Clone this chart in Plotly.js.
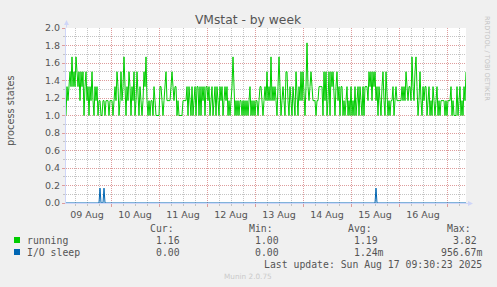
<!DOCTYPE html>
<html>
<head>
<meta charset="utf-8">
<script src="https://cdn.plot.ly/plotly-3.0.1.min.js"></script>
<style>
  html, body { margin: 0; padding: 0; background: #F0F0F0; }
  #chart { width: 497px; height: 287px; }
</style>
</head>
<body>
<div id="chart"></div>
<script>
// ---- data (30-minute averages) ----
const seriesStart = "2025-08-09T01:30:00Z";
const stepMinutes = 30;

const running_aug09 = [1.0,1.33,1.17,1.33,1.5,1.33,1.67,1.33,1.5,1.33,1.67,1.5,1.33,1.5,1.17,1.5,1.33,1.5,1.0,1.33,1.5,1.17,1.33,1.0,1.33,1.17,1.5,1.17,1.0,1.33,1.17,1.33,1.0,1.17,1.17,1.0,1.0,1.17,1.17,1.0,1.17,1.17,1.17,1.0,1.17];
const running_aug10 = [1.17,1.17,1.0,1.17,1.33,1.17,1.5,1.33,1.0,1.17,1.5,1.17,1.33,1.67,1.17,1.0,1.33,1.17,1.5,1.33,1.0,1.33,1.17,1.5,1.0,1.17,1.5,1.17,1.0,1.33,1.17,1.0,1.17,1.5,1.33,1.67,1.17,1.0,1.17,1.0,1.17,1.17,1.0,1.33,1.17,1.0,1.0,1.0];
const running_aug11 = [1.0,1.33,1.33,1.17,1.0,1.17,1.33,1.5,1.17,1.17,1.17,1.17,1.33,1.5,1.33,1.17,1.33,1.33,1.0,1.17,1.0,1.0,1.0,1.0,1.17,1.17,1.17,1.17,1.33,1.0,1.33,1.17,1.0,1.33,1.0,1.17,1.33,1.0,1.33,1.33,1.0,1.33,1.0,1.33,1.17,1.33,1.0,1.33];
const running_aug12 = [1.33,1.17,1.33,1.0,1.17,1.33,1.0,1.17,1.33,1.0,1.33,1.17,1.0,1.33,1.17,1.33,1.0,1.17,1.33,1.17,1.33,1.0,1.17,1.0,1.17,1.33,1.67,1.17,1.0,1.17,1.0,1.17,1.0,1.17,1.17,1.0,1.17,1.0,1.17,1.0,1.17,1.0,1.17,1.33,1.0,1.17,1.0,1.17];
const running_aug13 = [1.0,1.17,1.17,1.0,1.17,1.33,1.33,1.17,1.0,1.17,1.33,1.17,1.5,1.17,1.33,1.17,1.67,1.17,1.33,1.17,1.33,1.17,1.0,1.33,1.67,1.33,1.0,1.17,1.33,1.17,1.0,1.5,1.5,1.17,1.0,1.33,1.17,1.0,1.33,1.17,1.0,1.5,1.17,1.0,1.33,1.17,1.5,1.17];
const running_aug14 = [1.5,1.17,1.0,1.33,1.83,1.33,1.17,1.33,1.5,1.33,1.17,1.17,1.17,1.0,1.17,1.17,1.33,1.33,1.33,1.33,1.0,1.5,1.17,1.5,1.0,1.17,1.5,1.0,1.5,1.33,1.5,1.17,1.0,1.33,1.5,1.17,1.33,1.0,1.33,1.33,1.0,1.17,1.0,1.17,1.33,1.0,1.17,1.0];
const running_aug15 = [1.33,1.0,1.17,1.0,1.33,1.0,1.17,1.33,1.0,1.33,1.17,1.0,1.33,1.0,1.33,1.33,1.33,1.17,1.5,1.33,1.5,1.17,1.5,1.33,1.5,1.17,1.33,1.0,1.33,1.17,1.0,1.33,1.5,1.17,1.0,1.5,1.17,1.0,1.17,1.0,1.17,1.17,1.33,1.0,1.17,1.33,1.17,1.17];
const running_aug16 = [1.17,1.17,1.17,1.33,1.17,1.33,1.17,1.5,1.33,1.17,1.33,1.33,1.17,1.67,1.33,1.17,1.5,1.67,1.33,1.0,1.17,1.5,1.17,1.0,1.33,1.17,1.33,1.33,1.0,1.17,1.33,1.0,1.17,1.0,1.33,1.17,1.0,1.17,1.33,1.0,1.17,1.0,1.17,1.17,1.17,1.17,1.0,1.17];
const running_aug17 = [1.0,1.17,1.17,1.17,1.33,1.0,1.17,1.0,1.0,1.0,1.33,1.0,1.17,1.33,1.0,1.17,1.0,1.33,1.17,1.5];

const ioSleepTimes  = ["2025-08-09 01:30","2025-08-09 18:00","2025-08-09 18:30","2025-08-09 19:00","2025-08-09 20:00","2025-08-09 20:30","2025-08-09 21:00","2025-08-15 12:00","2025-08-15 12:30","2025-08-15 13:00","2025-08-17 09:30"];
const ioSleepValues = [0, 0, 0.17, 0, 0, 0.17, 0, 0, 0.17, 0, 0];

const seriesNames = ["running", "I/O sleep"];
const seriesColors = ["#00CC00", "#0066B3"];
const legendHeaders = ["Cur:", "Min:", "Avg:", "Max:"];
const runningStats = ["1.16", "1.00", "1.19", "3.82"];
const ioSleepStats = ["0.00", "0.00", "1.24m", "956.67m"];
const titleText = "VMstat - by week";
const yTitle = "process states";
const lastUpdate = "Last update: Sun Aug 17 09:30:23 2025";
const footer = "Munin 2.0.75";
const sideText = "RRDTOOL / TOBI OETIKER";

// ---- build time axis for the running series ----
const runningValues = [].concat(running_aug09, running_aug10, running_aug11, running_aug12,
  running_aug13, running_aug14, running_aug15, running_aug16, running_aug17);
const t0 = Date.parse(seriesStart);
const runningTimes = runningValues.map((v, i) =>
  new Date(t0 + i * stepMinutes * 60000).toISOString().slice(0, 16).replace("T", " "));

// ---- layout helpers (pixel -> paper) ----
const W = 497, H = 287, L = 66, T = 28, PW = 400, PH = 175;
const px = x => (x - L) / PW;
const py = y => (T + PH - y) / PH;

const mono = { family: "DejaVu Sans Mono", size: 9.8, color: "#555555" };
function txt(text, x, y, xanchor, font) {
  return { text, x: px(x), y: py(y), xref: "paper", yref: "paper", xanchor, yanchor: "middle",
           showarrow: false, borderpad: 0, borderwidth: 0, font: font || mono };
}

const annotations = [
  { text: yTitle, x: px(11), y: py(110), xref: "paper", yref: "paper", xanchor: "center", yanchor: "middle",
    textangle: -90, showarrow: false, borderpad: 0, font: { family: "DejaVu Sans", size: 9.8, color: "#555555" } },
  { text: sideText, x: px(487), y: py(58), xref: "paper", yref: "paper", xanchor: "center", yanchor: "middle",
    textangle: 90, showarrow: false, borderpad: 0, font: { family: "DejaVu Sans", size: 6.6, color: "#C4C4C4" } },
  { x: px(473), y: py(203.5), xref: "paper", yref: "paper", ax: -9, ay: 0, text: "", showarrow: true,
    arrowhead: 2, arrowsize: 1, arrowwidth: 1, arrowcolor: "#CFD6F8" },
  { x: px(66.5), y: py(20), xref: "paper", yref: "paper", ax: 0, ay: 9, text: "", showarrow: true,
    arrowhead: 2, arrowsize: 1, arrowwidth: 1, arrowcolor: "#CFD6F8" },
  txt(legendHeaders[0], 149.5, 228, "left"),
  txt(legendHeaders[1], 248.7, 228, "left"),
  txt(legendHeaders[2], 347.7, 228, "left"),
  txt(legendHeaders[3], 446.7, 228, "left"),
  txt(seriesNames[0], 26.7, 240, "left"),
  txt(runningStats[0], 155.7, 240, "left"),
  txt(runningStats[1], 255, 240, "left"),
  txt(runningStats[2], 354.3, 240, "left"),
  txt(runningStats[3], 453.3, 240, "left"),
  txt(seriesNames[1], 26.7, 252, "left"),
  txt(ioSleepStats[0], 155.7, 252, "left"),
  txt(ioSleepStats[1], 255, 252, "left"),
  txt(ioSleepStats[2], 354.3, 252, "left"),
  txt(ioSleepStats[3], 441, 252, "left"),
  txt(lastUpdate, 482, 264, "right"),
  txt(footer, 248, 276.5, "center", { family: "DejaVu Sans", size: 7.3, color: "#CACACA" })
];

const shapes = [
  { type: "rect", xref: "paper", yref: "paper", x0: px(14), x1: px(20), y0: py(243), y1: py(237),
    fillcolor: seriesColors[0], line: { width: 0 } },
  { type: "rect", xref: "paper", yref: "paper", x0: px(14), x1: px(20), y0: py(255), y1: py(249),
    fillcolor: seriesColors[1], line: { width: 0 } }
];

const traces = [
  { type: "scatter", mode: "lines", name: seriesNames[0], x: runningTimes, y: runningValues,
    line: { color: seriesColors[0], width: 1 }, hoverinfo: "skip" },
  { type: "scatter", mode: "lines", name: seriesNames[1], x: ioSleepTimes, y: ioSleepValues,
    line: { color: seriesColors[1], width: 1 }, hoverinfo: "skip" }
];

const majorGrid = "#DE9C9C";
const minorGrid = "#C4C4C4";

const layout = {
  width: W, height: H,
  margin: { l: L, r: W - L - PW, t: T, b: H - T - PH, pad: 0 },
  paper_bgcolor: "#F0F0F0",
  plot_bgcolor: "#FFFFFF",
  showlegend: false,
  title: { text: titleText, x: 248 / W, xref: "container", xanchor: "center",
           y: 1 - 20 / H, yref: "container", yanchor: "middle",
           font: { family: "DejaVu Sans", size: 12.3, color: "#555555" } },
  xaxis: {
    type: "date",
    range: ["2025-08-09 01:30", "2025-08-17 09:30"],
    tick0: "2025-08-09 00:00", dtick: 86400000,
    ticklabelmode: "period", tickformat: "%d %b",
    showgrid: true, gridcolor: majorGrid, griddash: "1px,1px", gridwidth: 1,
    ticks: "outside", ticklen: 3, tickcolor: majorGrid, tickwidth: 1,
    minor: { tick0: "2025-08-09 00:00", dtick: 21600000, showgrid: true, gridcolor: minorGrid,
             griddash: "1px,1px", gridwidth: 1, ticks: "outside", ticklen: 2, tickcolor: minorGrid },
    showline: true, linecolor: "#CFD6F8", linewidth: 1,
    zeroline: false, fixedrange: true,
    tickfont: { family: "DejaVu Sans", size: 9.5, color: "#555555" }
  },
  yaxis: {
    range: [0, 2.0], dtick: 0.2, tick0: 0, tickformat: ".1f",
    showgrid: true, gridcolor: majorGrid, griddash: "1px,1px", gridwidth: 1,
    ticks: "outside", ticklen: 3, tickcolor: majorGrid, tickwidth: 1,
    minor: { dtick: 0.1, showgrid: true, gridcolor: minorGrid, griddash: "1px,1px", gridwidth: 1,
             ticks: "outside", ticklen: 2, tickcolor: minorGrid },
    showline: true, linecolor: "#CFD6F8", linewidth: 1,
    zeroline: false, fixedrange: true,
    tickfont: { family: "DejaVu Sans", size: 9.5, color: "#555555" }
  },
  annotations, shapes
};

Plotly.newPlot("chart", traces, layout, { displayModeBar: false, staticPlot: true });
</script>
</body>
</html>
